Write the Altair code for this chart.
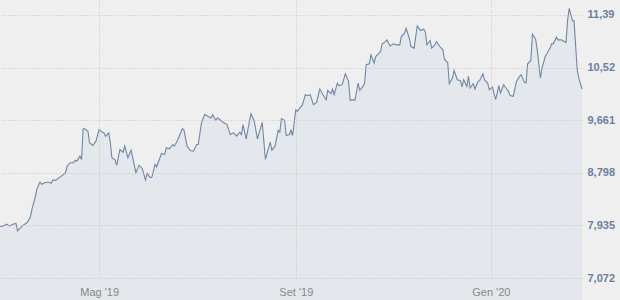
import json
import altair as alt
import pandas as pd

start_date = "2019-02-28"
day_offsets = [
    0, 2, 4, 6, 8, 10, 11, 14, 17, 19, 20, 22, 23, 25, 26, 28, 30, 32, 33, 35,
    37, 39, 41, 42, 44, 46, 47, 48, 50, 51, 52, 53, 55, 56, 58, 60, 62, 64, 65, 66,
    68, 69, 70, 72, 73, 75, 77, 78, 80, 82, 83, 85, 87, 89, 91, 92, 94, 95, 97, 98,
    101, 103, 104, 106, 108, 109, 111, 114, 115, 117, 119, 121, 123, 124, 126, 128, 130, 132, 133, 135,
    136, 138, 140, 142, 144, 146, 148, 150, 151, 152, 154, 156, 157, 159, 161, 164, 166, 169, 170, 172,
    174, 175, 176, 178, 179, 181, 182, 183, 185, 186, 188, 189, 191, 192, 194, 196, 198, 200, 202, 204,
    205, 207, 208, 209, 211, 212, 214, 216, 218, 219, 221, 222, 224, 225, 227, 228, 229, 231, 232, 234,
    235, 238, 239, 241, 242, 244, 246, 248, 250, 251, 253, 254, 256, 257, 259, 260, 261, 263, 265, 266,
    267, 269, 270, 272, 273, 275, 277, 278, 280, 281, 283, 284, 286, 288, 289, 290, 292, 293, 294, 296,
    297, 299, 300, 302, 303, 305, 306, 308, 309, 310, 312, 313, 315, 316, 318, 319, 321, 323, 325, 326,
    328, 329, 330, 332, 333, 335, 336, 338, 339, 341, 342, 344, 345, 346, 348, 349, 351, 353, 354, 355,
    356, 358, 359, 361, 362, 364,
]
prices = [
    7.917, 7.927, 7.954, 7.927, 7.954, 7.966, 7.845, 7.927, 7.982, 8.069,
    8.200, 8.396, 8.526, 8.646, 8.608, 8.636, 8.646, 8.625, 8.678, 8.678,
    8.718, 8.755, 8.799, 8.907, 8.963, 8.963, 9.005, 8.989, 9.071, 9.017,
    9.519, 9.519, 9.479, 9.290, 9.246, 9.316, 9.507, 9.463, 9.453, 9.398,
    9.453, 9.290, 9.045, 9.005, 8.919, 9.180, 9.136, 9.234, 9.045, 9.169,
    9.045, 8.799, 8.919, 8.865, 8.678, 8.788, 8.718, 8.728, 8.935, 8.897,
    9.115, 9.099, 9.208, 9.192, 9.262, 9.234, 9.327, 9.519, 9.507, 9.234,
    9.164, 9.152, 9.262, 9.262, 9.617, 9.752, 9.725, 9.698, 9.752, 9.659,
    9.698, 9.659, 9.617, 9.589, 9.425, 9.453, 9.398, 9.463, 9.425, 9.589,
    9.355, 9.643, 9.764, 9.643, 9.355, 9.626, 9.017, 9.300, 9.169, 9.234,
    9.496, 9.463, 9.687, 9.659, 9.409, 9.425, 9.496, 9.409, 9.834, 9.806,
    9.878, 9.899, 10.079, 10.063, 10.079, 9.916, 9.953, 10.172, 10.079, 9.997,
    10.150, 10.096, 10.172, 10.079, 10.270, 10.226, 10.243, 10.422, 10.297, 9.986,
    9.997, 9.986, 10.270, 10.150, 10.215, 10.270, 10.570, 10.586, 10.733, 10.597,
    10.705, 10.787, 10.913, 10.950, 10.978, 10.880, 10.913, 10.896, 10.896, 11.032,
    11.088, 11.169, 11.006, 10.869, 10.843, 11.032, 11.207, 11.130, 11.153, 11.114,
    10.896, 10.967, 10.843, 10.896, 10.950, 10.869, 10.815, 10.656, 10.607, 10.259,
    10.352, 10.476, 10.324, 10.308, 10.205, 10.324, 10.215, 10.378, 10.189, 10.259,
    10.172, 10.297, 10.313, 10.422, 10.324, 10.270, 10.161, 10.205, 10.096, 9.997,
    10.226, 10.107, 10.243, 10.205, 10.133, 10.063, 10.051, 10.297, 10.378, 10.406,
    10.280, 10.270, 10.586, 10.640, 11.071, 10.990, 10.815, 10.352, 10.516, 10.705,
    10.749, 10.843, 10.913, 10.913, 11.022, 10.978, 10.978, 10.950, 10.934, 11.305,
    11.496, 11.294, 11.294, 10.488, 10.352, 10.172,
]

y_ticks = [7.072, 7.935, 8.798, 9.661, 10.524, 11.387]
y_tick_labels = ["7,072", "7,935", "8,798", "9,661", "10,52", "11,39"]
y_domain = [7.072, 11.632]

x_tick_months = [5, 9, 1]
x_tick_years = [2019, 2019, 2020]
x_tick_labels = ["Mag '19", "Set '19", "Gen '20"]

dates = pd.Timestamp(start_date) + pd.to_timedelta(day_offsets, unit="D")
df = pd.DataFrame({"date": dates, "price": prices})

y_expr = ""
for v, lab in zip(y_ticks, y_tick_labels):
    y_expr += f"abs(datum.value - {v}) < 0.01 ? {json.dumps(lab)} : "
y_expr += "''"

x_expr = ""
for m, lab in zip(x_tick_months, x_tick_labels):
    x_expr += f"month(datum.value) == {m - 1} ? {json.dumps(lab)} : "
x_expr += "''"

x_vals = [alt.DateTime(year=yy, month=mm, date=1) for yy, mm in zip(x_tick_years, x_tick_months)]

grid_color = "#c4c4c4"

chart = alt.Chart(df).mark_area(
    color="#e0e4e9",
    line={"color": "#6f87a5", "strokeWidth": 1.1},
).encode(
    x=alt.X(
        "date:T",
        scale=alt.Scale(
            domain=[alt.DateTime(year=2019, month=2, date=28), alt.DateTime(year=2020, month=2, date=27)],
            nice=False,
        ),
        axis=alt.Axis(
            values=x_vals,
            labelExpr=x_expr,
            title=None,
            domain=False,
            ticks=False,
            grid=True,
            gridColor=grid_color,
            gridDash=[1, 2],
            gridWidth=1,
            labelColor="#888888",
            labelFont="Liberation Sans",
            labelFontSize=11,
            labelPadding=8,
            zindex=1,
        ),
    ),
    y=alt.Y(
        "price:Q",
        scale=alt.Scale(domain=y_domain, nice=False, zero=False),
        axis=alt.Axis(
            orient="right",
            values=y_ticks,
            labelExpr=y_expr,
            title=None,
            domain=False,
            ticks=False,
            grid=True,
            gridColor=grid_color,
            gridDash=[1, 2],
            gridWidth=1,
            labelColor="#6b809e",
            labelFont="Liberation Sans",
            labelFontSize=11,
            labelFontWeight="bold",
            labelPadding=5,
            labelAlign="left",
            zindex=1,
        ),
    ),
).properties(
    width=582,
    height=278,
    autosize=alt.AutoSizeParams(type="none"),
    padding={"left": 0, "top": 0, "right": 38, "bottom": 22},
    background="#efefef",
).configure_view(stroke=None)

chart.save("out.html", embed_options={"renderer": "svg", "actions": False})
